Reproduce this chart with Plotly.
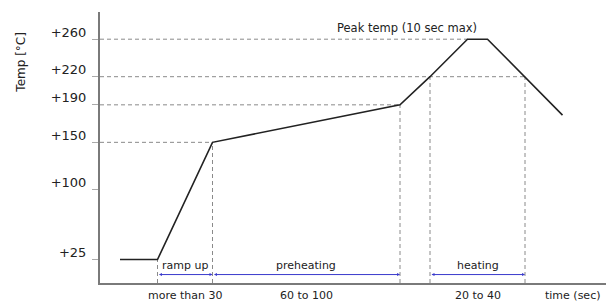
import plotly.graph_objects as go

# ---- data ----
profile_time = [8, 23, 45, 120, 132, 147, 155, 170, 185]
profile_temp = [25, 25, 150, 190, 220, 260, 260, 220, 179]

level_temps = [260, 220, 190, 150]
level_end_times = [147, 170, 120, 45]

marker_times = [23, 45, 120, 132, 170]
marker_temps = [25, 150, 190, 220, 220]

phase_names = ["ramp up", "preheating", "heating"]
phase_start = [23, 45, 132]
phase_end = [45, 120, 170]
phase_durations = ["more than 30", "60 to 100", "20 to 40"]

tick_values = [25, 100, 150, 190, 220, 260]
tick_labels = ["+25", "+100", "+150", "+190", "+220", "+260"]

FONT = "DejaVu Sans"
GRID = "#8a8a8a"
AXIS = "#7a7a7a"
DASH = "4px,3px"

fig = go.Figure()

# horizontal dashed guides
for t, e in zip(level_temps, level_end_times):
    fig.add_trace(go.Scatter(x=[0, e], y=[t, t], mode="lines",
                             line=dict(color=GRID, width=1, dash=DASH),
                             hoverinfo="skip", showlegend=False))
# vertical dashed guides
for x, t in zip(marker_times, marker_temps):
    fig.add_trace(go.Scatter(x=[x, x], y=[0, t], mode="lines",
                             line=dict(color=GRID, width=1, dash=DASH),
                             hoverinfo="skip", showlegend=False))

# the profile curve
fig.add_trace(go.Scatter(x=profile_time, y=profile_temp, mode="lines",
                         line=dict(color="#222222", width=1.6),
                         showlegend=False))

annotations = []
arrow_y = 9
label_y = 19
for name, s, e, d in zip(phase_names, phase_start, phase_end, phase_durations):
    mid = (s + e) / 2
    annotations.append(dict(x=e, y=arrow_y, ax=s, ay=arrow_y, xref="x", yref="y",
                            axref="x", ayref="y", text="", showarrow=True,
                            arrowside="end+start", arrowhead=2, arrowsize=0.6,
                            arrowwidth=1, arrowcolor="#3a3acc", standoff=0,
                            startstandoff=0))
    annotations.append(dict(x=mid, y=label_y, xref="x", yref="y", text=name,
                            showarrow=False, font=dict(family=FONT, size=11, color="#222")))
    annotations.append(dict(x=mid, y=0, xref="x", yref="paper", text=d,
                            showarrow=False, yanchor="middle", yshift=-12.5,
                            borderpad=0,
                            font=dict(family=FONT, size=11, color="#222")))

annotations.append(dict(x=188.8, y=0, xref="x", yref="paper", text="time (sec)",
                        showarrow=False, yanchor="middle", yshift=-12.5, borderpad=0,
                        font=dict(family=FONT, size=11, color="#222")))
annotations.append(dict(x=122.8, y=272, xref="x", yref="y",
                        text="Peak temp (10 sec max)", showarrow=False,
                        font=dict(family=FONT, size=11.5, color="#222")))
annotations.append(dict(x=0, y=235, xref="paper", yref="y", xshift=-88,
                        text="Temp [°C]", textangle=-90, showarrow=False,
                        font=dict(family=FONT, size=12, color="#222")))

fig.update_layout(
    width=606, height=302,
    margin=dict(l=100, r=0, t=12, b=19),
    paper_bgcolor="white", plot_bgcolor="white",
    annotations=annotations,
    xaxis=dict(range=[0, 202.4], showgrid=False, zeroline=False,
               showticklabels=False, ticks="", showline=True,
               linecolor=AXIS, linewidth=2),
    yaxis=dict(range=[0, 289], showgrid=False, zeroline=False,
               tickvals=tick_values, ticktext=tick_labels,
               ticks="outside", ticklen=6, tickcolor="#aaaaaa", tickwidth=1,
               ticklabelshift=-7, ticklabelstandoff=3,
               tickfont=dict(family=FONT, size=13, color="#222"),
               showline=True, linecolor=AXIS, linewidth=2),
)

fig.write_html("out.html", config={"displayModeBar": False},
               post_script="document.body.style.margin='0';document.body.style.overflow='hidden';")
